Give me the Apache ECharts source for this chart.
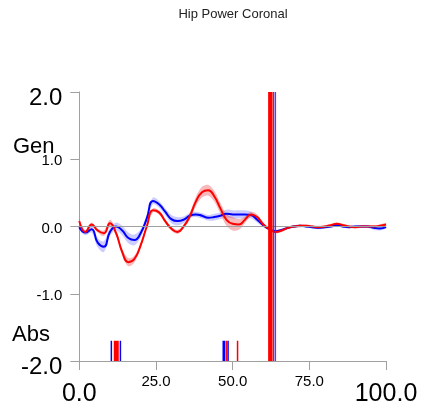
<!DOCTYPE html>
<html>
<head>
<meta charset="utf-8">
<script src="https://cdn.jsdelivr.net/npm/echarts@6/dist/echarts.min.js"></script>
<style>
html, body { margin: 0; padding: 0; background: #fff; }
#main { width: 422px; height: 413px; }
</style>
</head>
<body>
<div id="main"></div>
<script>
// % of cycle, every 2
var pct = [0, 2, 4, 6, 8, 10, 12, 14, 16, 18, 20, 22, 24, 26, 28, 30, 32, 34, 36, 38, 40,
	42, 44, 46, 48, 50, 52, 54, 56, 58, 60, 62, 64, 66, 68, 70, 72, 74, 76, 78, 80,
	82, 84, 86, 88, 90, 92, 94, 96, 98, 100];

// blue (left) mean and band half width
var leftMean = [-0.01, -0.09, -0.04, -0.24, -0.3, -0.08, 0.0, -0.06, -0.17, -0.2, -0.1,
	0.12, 0.38, 0.33, 0.22, 0.11, 0.08, 0.1, 0.16, 0.18, 0.16,
	0.13, 0.14, 0.16, 0.19, 0.18, 0.18, 0.18, 0.17, 0.1, 0.02,
	-0.04, -0.07, -0.05, -0.02, 0.0, 0.01, 0.0, -0.01, -0.02, -0.01,
	0.0, 0.02, 0.0, -0.01, 0.0, 0.0, 0.0, -0.02, -0.03, -0.01];
var leftSd = [0.03, 0.04, 0.05, 0.07, 0.08, 0.06, 0.06, 0.07, 0.08, 0.08, 0.06,
	0.05, 0.05, 0.05, 0.05, 0.06, 0.06, 0.05, 0.04, 0.04, 0.04,
	0.04, 0.05, 0.05, 0.06, 0.06, 0.06, 0.06, 0.05, 0.04, 0.03,
	0.02, 0.02, 0.02, 0.02, 0.02, 0.02, 0.02, 0.02, 0.02, 0.02,
	0.02, 0.02, 0.02, 0.02, 0.02, 0.02, 0.02, 0.03, 0.03, 0.02];

// red (right) mean and band half width
var rightMean = [0.08, -0.08, 0.03, -0.06, -0.1, 0.05, -0.1, -0.38, -0.53, -0.48, -0.28,
	0.0, 0.24, 0.21, 0.08, -0.03, -0.08, 0.0, 0.15, 0.37, 0.51,
	0.54, 0.45, 0.27, 0.1, 0.04, 0.03, 0.1, 0.18, 0.14, 0.03,
	-0.04, -0.08, -0.06, -0.02, 0.0, 0.01, 0.01, 0.0, -0.01, 0.0,
	0.02, 0.04, 0.02, 0.0, -0.01, 0.0, 0.0, 0.0, 0.01, 0.03];
var rightSd = [0.02, 0.02, 0.03, 0.03, 0.04, 0.05, 0.04, 0.05, 0.06, 0.05, 0.04,
	0.03, 0.03, 0.03, 0.03, 0.03, 0.03, 0.03, 0.05, 0.07, 0.08,
	0.08, 0.08, 0.08, 0.09, 0.1, 0.08, 0.05, 0.04, 0.04, 0.03,
	0.02, 0.02, 0.02, 0.02, 0.02, 0.02, 0.02, 0.02, 0.02, 0.02,
	0.02, 0.02, 0.02, 0.02, 0.02, 0.02, 0.02, 0.02, 0.02, 0.02];

// events: x position, top of marker, side
var eventX = [10.45, 12.05, 13.4, 47.1, 47.9, 48.5, 51.6, 62.3, 63.33, 63.66, 64.0];
var eventTop = [-1.7, -1.7, -1.7, -1.7, -1.7, -1.7, -1.7, 2, 2, 2, 2];
var eventSide = ['L', 'R', 'L', 'L', 'R', 'L', 'R', 'R', 'R', 'L', 'R'];
var eventWidth = [1.5, 5, 1.5, 2.5, 1.5, 1.5, 1.5, 4.5, 1, 1, 1];

var yTicks = [-2, -1, 0, 1, 2];
var xTicks = [0, 25, 50, 75, 100];

var FONT = 'Liberation Sans, Arial, sans-serif';
var BLUE = '#0000ff', RED = '#ff0000', AXIS = '#a0a0a0';

function pairs(arr) {
	return pct.map(function (x, i) { return [x, arr[i]]; });
}

// shaded band mean +/- sd drawn as one polygon
function band(name, mean, sd, color, z) {
	return {
		name: name + 'band',
		type: 'custom',
		silent: true,
		z: z,
		data: [0],
		renderItem: function (params, api) {
			var up = [], lo = [];
			for (var i = 0; i < pct.length; i++) {
				up.push(api.coord([pct[i], mean[i] + sd[i]]));
				lo.push(api.coord([pct[i], mean[i] - sd[i]]));
			}
			return {
				type: 'polygon',
				shape: { points: up.concat(lo.reverse()), smooth: 0.35 },
				style: { fill: color, stroke: null }
			};
		}
	};
}

var series = [
	band('L', leftMean, leftSd, 'rgba(100,100,255,0.33)', 1),
	band('R', rightMean, rightSd, 'rgba(235,70,70,0.38)', 2)
];

series.push({
	name: 'left',
	type: 'line',
	smooth: true,
	symbol: 'none',
	lineStyle: { color: BLUE, width: 2 },
	data: pairs(leftMean),
	markLine: {
		silent: true,
		symbol: 'none',
		label: { show: false },
		lineStyle: { color: AXIS, width: 1, type: 'solid' },
		data: [{ yAxis: 0 }]
	},
	z: 3
});
series.push({
	name: 'right',
	type: 'line',
	smooth: true,
	symbol: 'none',
	lineStyle: { color: RED, width: 2 },
	data: pairs(rightMean),
	z: 4
});

eventX.forEach(function (x, i) {
	series.push({
		name: 'ev' + i,
		type: 'line',
		symbol: 'none',
		silent: true,
		lineStyle: {
			color: eventSide[i] == 'L' ? BLUE : RED,
			width: eventWidth[i],
			opacity: (eventTop[i] > 0 && eventSide[i] == 'L') ? 0.35 : 1
		},
		data: [[x, -2], [x, eventTop[i]]],
		z: 5
	});
});

function fmt(v, lo, hi) {
	var s = v.toFixed(1);
	return (v == lo || v == hi) ? '{big|' + s + '}' : '{sm|' + s + '}';
}

var myChart = echarts.init(document.getElementById('main'));

var option = {
	animation: false,
	title: {
		text: 'Hip Power Coronal',
		left: 228,
		top: 3,
		textAlign: 'center',
		textStyle: { fontFamily: FONT, fontSize: 13, fontWeight: 'normal', color: '#222' }
	},
	grid: { left: 79.3, right: 36, top: 92, bottom: 52 },
	xAxis: {
		type: 'value',
		min: 0,
		max: 100,
		interval: 25,
		axisLine: { show: true, onZero: false, lineStyle: { color: AXIS } },
		axisTick: { show: true, length: 9, lineStyle: { color: AXIS } },
		splitLine: { show: false },
		axisLabel: {
			margin: 13,
			fontFamily: FONT,
			color: '#000',
			formatter: function (v) { return fmt(v, xTicks[0], xTicks[xTicks.length - 1]); },
			rich: {
				big: { fontSize: 25, fontFamily: FONT, color: '#000', padding: [8, 0, 0, 0] },
				sm: { fontSize: 15, fontFamily: FONT, color: '#000' }
			}
		}
	},
	yAxis: {
		type: 'value',
		min: -2,
		max: 2,
		interval: 1,
		axisLine: { show: true, onZero: false, lineStyle: { color: AXIS } },
		axisTick: { show: true, length: 9, lineStyle: { color: AXIS } },
		splitLine: { show: false },
		axisLabel: {
			margin: 17,
			fontFamily: FONT,
			color: '#000',
			formatter: function (v) { return fmt(v, yTicks[0], yTicks[yTicks.length - 1]); },
			rich: {
				big: { fontSize: 24, fontFamily: FONT, color: '#000', padding: [13, 0, 0, 0] },
				sm: { fontSize: 15, fontFamily: FONT, color: '#000', padding: [4, 0, 0, 0] }
			}
		}
	},
	graphic: [{
		type: 'text',
		left: 13,
		top: 136,
		style: { text: 'Gen', fontFamily: FONT, fontSize: 22, fill: '#000' }
	}, {
		type: 'text',
		left: 12,
		top: 324,
		style: { text: 'Abs', fontFamily: FONT, fontSize: 22, fill: '#000' }
	}],
	series: series
};

myChart.setOption(option);
</script>
</body>
</html>
